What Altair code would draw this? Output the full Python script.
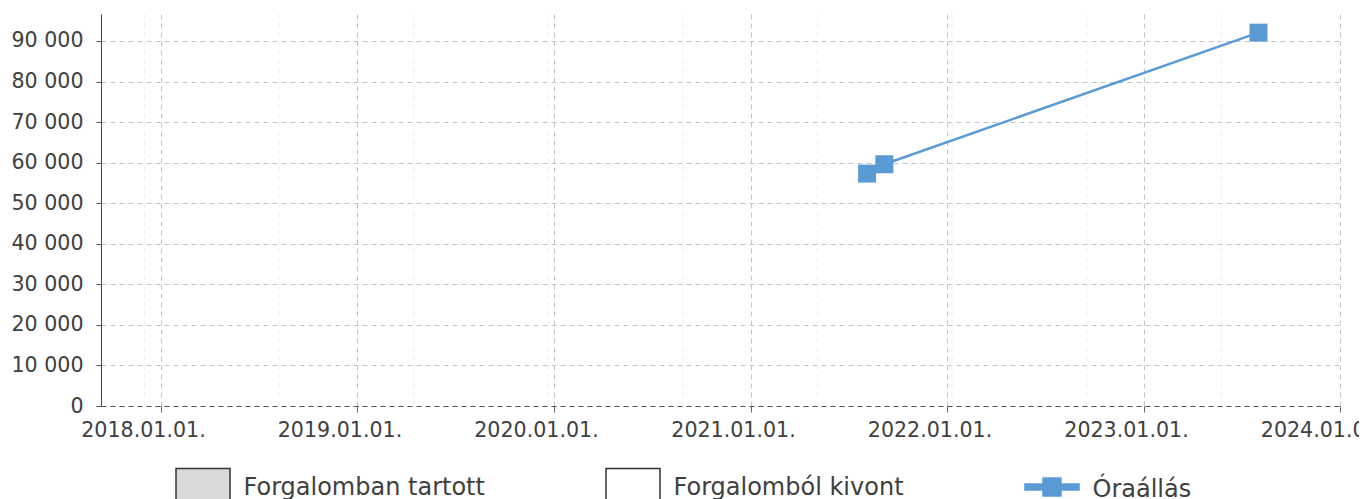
import altair as alt
import pandas as pd

# ---- data ----
reading_dates = ["2021-08-05", "2021-09-06", "2023-08-02"]
reading_values = [57300, 59600, 92050]
series_name = "Óraállás"

legend_labels = ["Forgalomban tartott", "Forgalomból kivont", "Óraállás"]
legend_fills = ["#d9d9d9", "#ffffff", "#5b9bd5"]
legend_strokes = ["#333333", "#333333", "#5b9bd5"]

year_ticks = ["2018-01-01", "2019-01-01", "2020-01-01", "2021-01-01",
              "2022-01-01", "2023-01-01", "2024-01-01"]
minor_lines = ["2017-12-02", "2018-08-09", "2019-04-16", "2019-12-22",
               "2020-08-28", "2021-05-05", "2022-01-10", "2022-09-17",
               "2023-05-25"]
y_ticks = [0, 10000, 20000, 30000, 40000, 50000, 60000, 70000, 80000, 90000]
x_domain = ["2017-09-12", "2024-01-06"]
y_max = 96650

BLUE = "#5b9bd5"
FONT = "DejaVu Sans"
TXT = "#404040"


def ms(s):
    return int(pd.Timestamp(s, tz="UTC").value // 10**6)


# legend symbol paths (unit box -1..1)
box_path = "M-1,-0.73H1V0.49H-1Z"
line_path = ("M-1,-0.233H-0.333V-0.455H0.333V-0.233H1V-0.011H0.333V0.211"
             "H-0.333V-0.011H-1Z")
legend_shapes = [box_path, box_path, line_path]

df = pd.DataFrame({"date": reading_dates, "value": reading_values,
                   "series": [series_name] * len(reading_dates)})
minor_df = pd.DataFrame({"date": minor_lines})
legend_df = pd.DataFrame({"cat": legend_labels})

x_scale = alt.Scale(type="utc", domain=[ms(d) for d in x_domain], nice=False)
y_scale = alt.Scale(domain=[0, y_max], nice=False, zero=True)

x_axis = alt.Axis(
    values=[ms(d) for d in year_ticks],
    labelExpr="utcFormat(datum.value, '%Y.%m.%d.')",
    labelAlign="left", labelOffset=-80, labelPadding=8, labelBaseline="top",
    tickSize=6, tickColor="#666666", grid=True, gridDash=[5, 4],
    gridColor="#c4c4c4", domainDash=[5, 4], domainColor="#555555",
    labelFont=FONT, labelFontSize=20.6, labelColor=TXT,
    labelOverlap=False, labelFlush=False, labelBound=False, title=None)

y_axis = alt.Axis(
    values=y_ticks, labelExpr="replace(format(datum.value, ','), ',', ' ')",
    tickSize=5, tickColor="#555555", labelPadding=13, grid=True,
    gridDash=[5, 4], gridColor="#c4c4c4", domainColor="#444444",
    labelFont=FONT, labelFontSize=20.6, labelColor=TXT,
    labelOverlap=False, labelFlush=False, labelBound=False, title=None)

minor = alt.Chart(minor_df).mark_rule(
    color="#f0f0f0", strokeDash=[5, 4], strokeWidth=1
).encode(x=alt.X("date:T", scale=x_scale, axis=x_axis))

line = alt.Chart(df).mark_line(color=BLUE, strokeWidth=2.5).encode(
    x=alt.X("date:T", scale=x_scale, axis=x_axis),
    y=alt.Y("value:Q", scale=y_scale, axis=y_axis),
)

points = alt.Chart(df).mark_point(
    shape="square", filled=True, size=324, color=BLUE, opacity=1
).encode(
    x=alt.X("date:T", scale=x_scale, axis=x_axis),
    y=alt.Y("value:Q", scale=y_scale, axis=y_axis),
)

leg = alt.Legend(title=None)
legend_layer = alt.Chart(legend_df).mark_point(filled=True, opacity=0).encode(
    fill=alt.Fill("cat:N", scale=alt.Scale(domain=legend_labels, range=legend_fills), legend=leg),
    stroke=alt.Stroke("cat:N", scale=alt.Scale(domain=legend_labels, range=legend_strokes), legend=leg),
    shape=alt.Shape("cat:N", scale=alt.Scale(domain=legend_labels, range=legend_shapes), legend=leg),
)

chart = alt.layer(minor, line, points, legend_layer).properties(
    width=1242, height=392,
    autosize=alt.AutoSizeParams(type="none"),
    padding={"left": 93, "top": 6, "right": 16, "bottom": 93},
).configure_view(stroke=None).configure_legend(
    orient="none", legendX=74, legendY=445.8, direction="horizontal",
    columns=3, columnPadding=118, symbolSize=2916, symbolStrokeWidth=1.5,
    symbolOpacity=1, labelFont=FONT, labelFontSize=24, labelColor=TXT,
    labelOffset=12.5, labelLimit=400, labelBaseline="middle", padding=0,
)

chart.save("out.html", embed_options={"renderer": "svg", "actions": False})
